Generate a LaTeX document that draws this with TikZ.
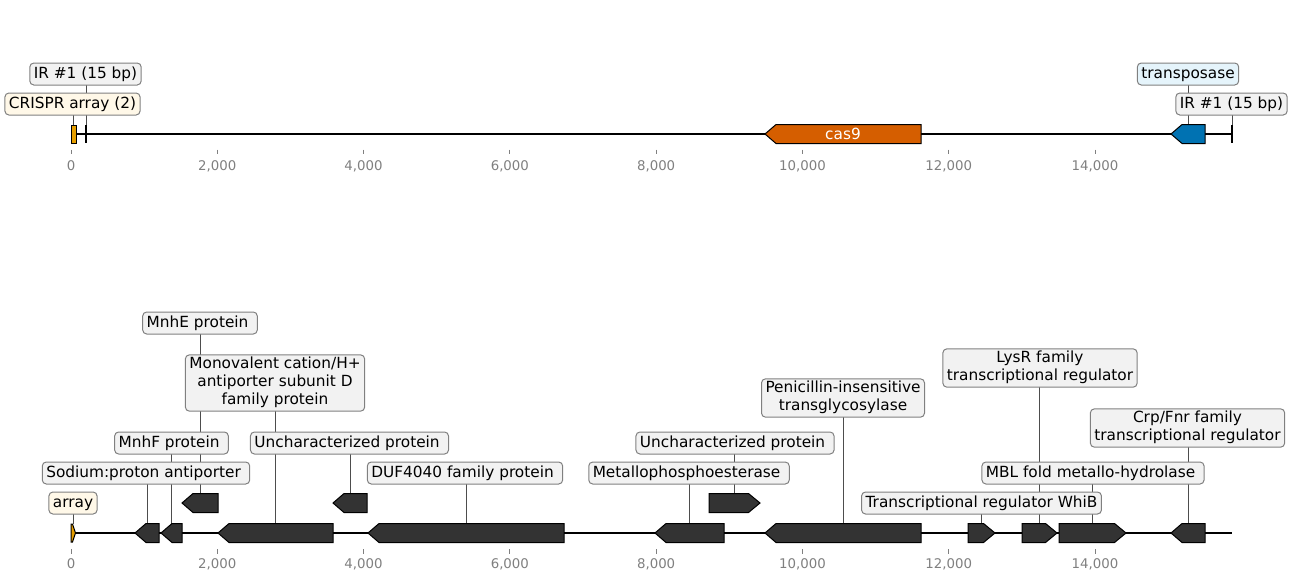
\documentclass[tikz,border=0pt]{standalone}
\usepackage{fontspec}
\setmainfont{DejaVu Sans}
\definecolor{boxfill}{HTML}{F2F2F2}
\definecolor{creamfill}{HTML}{FFF8E8}
\definecolor{bluefill}{HTML}{E5F4FB}
\definecolor{boxline}{HTML}{808080}
\definecolor{genedark}{HTML}{333333}
\definecolor{arrayorange}{HTML}{E69F00}
\definecolor{casorange}{HTML}{D55E00}
\definecolor{tnblue}{HTML}{0072B2}
\definecolor{leadc}{HTML}{4D4D4D}
\definecolor{tickc}{HTML}{808080}
\pgfdeclarelayer{bg}
\pgfsetlayers{bg,main}
\newcommand\lstrut{\vrule width 0pt height 10pt depth 3.5pt\relax}
\tikzset{
  lab/.style={draw=boxline, fill=boxfill, rounded corners=3pt, line width=0.75pt,
    font=\fontsize{11.5}{13.5}\selectfont, align=center,
    execute at begin node=\lstrut, execute at end node=\lstrut,
    inner xsep=3pt, inner ysep=1.5pt},
  cream/.style={fill=creamfill},
  bluish/.style={fill=bluefill},
  leader/.style={draw=leadc, line width=0.6pt},
  track/.style={line width=1.5pt, black},
  gene/.style={draw=black, line width=0.75pt, line join=miter},
  tickmark/.style={draw=tickc, line width=0.6pt},
  ticklab/.style={text=tickc, font=\fontsize{10}{12}\selectfont, inner sep=0pt},
}
\newcommand\grev[5]{%
  \draw[gene, fill=#5] (#2,#4) -- (#2+11,#4-9.5) -- (#3,#4-9.5) -- (#3,#4+9.5) -- (#2+11,#4+9.5) -- cycle;
  \coordinate (#1) at ({(#2+#3)/2},#4-9.5);}
\newcommand\gfwd[5]{%
  \draw[gene, fill=#5] (#2,#4-9.5) -- (#3-11.5,#4-9.5) -- (#3,#4) -- (#3-11.5,#4+9.5) -- (#2,#4+9.5) -- cycle;
  \coordinate (#1) at ({(#2+#3)/2},#4-9.5);}
\begin{document}
\begin{tikzpicture}[x=0.75pt,y=-0.75pt]
\useasboundingbox (0,0) rectangle (1294,582);

% ---------- top track ----------
\draw[track] (71,134) -- (1232,134);
\draw[track] (86,125) -- (86,143);
\coordinate (irl) at (86,125);
\draw[track] (1232,125) -- (1232,143);
\coordinate (irr) at (1232,125);
\draw[gene, fill=arrayorange] (71,125) rectangle (76,143);
\coordinate (arr1) at (73.5,125);
\grev{cas9}{765}{921}{134}{casorange}
\node[text=white, font=\fontsize{11.5}{13.5}\selectfont, inner sep=0pt] (cas9lab) at (843,134) {cas9};
\grev{tnp}{1171}{1205}{134}{tnblue}

\node[lab] (IRL) at (85.5,74) {IR \#1 (15 bp)};
\node[lab, cream] (CRL) at (72.5,104) {CRISPR array (2)};
\node[lab, bluish] (TPL) at (1188,74) {transposase};
\node[lab] (IRR) at (1231.5,104) {IR \#1 (15 bp)};

\begin{pgfonlayer}{bg}
  \draw[leader] (irl) -- (irl |- IRL.center);
  \draw[leader] (arr1) -- (arr1 |- CRL.center);
  \draw[leader] (tnp) -- (tnp |- TPL.center);
  \draw[leader] (irr) -- (irr |- IRR.center);
\end{pgfonlayer}

\foreach \k/\t in {0/0,1/{2,000},2/{4,000},3/{6,000},4/{8,000},5/{10,000},6/{12,000},7/{14,000}}{
  \draw[tickmark] ({71+\k*146.2857},149.5) -- ({71+\k*146.2857},154);
  \node[ticklab] (ta\k) at ({71+\k*146.2857},166) {\t};
}

% ---------- bottom track ----------
\draw[track] (71,533) -- (1232,533);
\draw[gene, fill=arrayorange] (71,524) -- (72.5,524) -- (75.5,533) -- (72.5,542) -- (71,542) -- cycle;
\coordinate (arr2) at (73,524);

\grev{g1}{135}{159}{533}{genedark}
\grev{g2}{161}{182}{533}{genedark}
\grev{g3}{182}{218}{503}{genedark}
\grev{g4}{218}{333}{533}{genedark}
\grev{g5}{333}{367}{503}{genedark}
\grev{g6}{368}{564}{533}{genedark}
\grev{g7}{655}{724}{533}{genedark}
\gfwd{g8}{709}{760}{503}{genedark}
\grev{g9}{765}{921}{533}{genedark}
\gfwd{g10}{968}{995}{533}{genedark}
\gfwd{g11}{1022}{1057}{533}{genedark}
\gfwd{g12}{1059}{1126}{533}{genedark}
\grev{g13}{1171}{1205}{533}{genedark}

\node[lab, cream] (ARL) at (73,503) {array};
\node[lab] (SPL) at (146,473) {Sodium:proton antiporter\ };
\node[lab] (MFL) at (171.5,443) {MnhF protein\ };
\node[lab] (MEL) at (200,323) {MnhE protein\ };
\node[lab] (MCL) at (275,383) {Monovalent cation/H+\\antiporter subunit D\\family protein};
\node[lab] (U1L) at (349.5,443) {Uncharacterized protein\ };
\node[lab] (DUL) at (465,473) {DUF4040 family protein\ };
\node[lab] (MPL) at (689,473) {Metallophosphoesterase\ };
\node[lab] (U2L) at (735,443) {Uncharacterized protein\ };
\node[lab] (PIL) at (843,398) {Penicillin-insensitive\\transglycosylase};
\node[lab] (WBL) at (981.5,503) {Transcriptional regulator WhiB};
\node[lab] (LYL) at (1040,368) {LysR family\\transcriptional regulator};
\node[lab] (MBL) at (1093,473) {MBL fold metallo-hydrolase\ };
\node[lab] (CPL) at (1187.5,428) {Crp/Fnr family\\transcriptional regulator};

\begin{pgfonlayer}{bg}
  \draw[leader] (arr2) -- (arr2 |- ARL.center);
  \draw[leader] (g1) -- (g1 |- SPL.center);
  \draw[leader] (g2) -- (g2 |- MFL.center);
  \draw[leader] (g3) -- (g3 |- MEL.center);
  \draw[leader] (g4) -- (g4 |- MCL.center);
  \draw[leader] (g5) -- (g5 |- U1L.center);
  \draw[leader] (g6) -- (g6 |- DUL.center);
  \draw[leader] (g7) -- (g7 |- MPL.center);
  \draw[leader] (g8) -- (g8 |- U2L.center);
  \draw[leader] (g9) -- (g9 |- PIL.center);
  \draw[leader] (g10) -- (g10 |- WBL.center);
  \draw[leader] (g11) -- (g11 |- LYL.center);
  \draw[leader] (g12) -- (g12 |- MBL.center);
  \draw[leader] (g13) -- (g13 |- CPL.center);
\end{pgfonlayer}

\foreach \k/\t in {0/0,1/{2,000},2/{4,000},3/{6,000},4/{8,000},5/{10,000},6/{12,000},7/{14,000}}{
  \draw[tickmark] ({71+\k*146.2857},549) -- ({71+\k*146.2857},553.5);
  \node[ticklab] (tb\k) at ({71+\k*146.2857},564) {\t};
}
\end{tikzpicture}
\end{document}
